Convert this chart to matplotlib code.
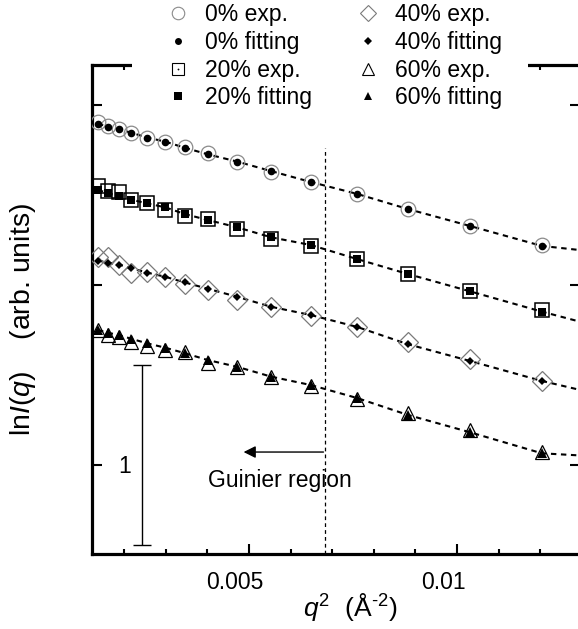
import matplotlib
matplotlib.use("Agg")
import matplotlib.pyplot as plt
from matplotlib.ticker import FixedLocator, MultipleLocator, FixedFormatter
from matplotlib.lines import Line2D
from matplotlib.patches import Rectangle
import matplotlib.transforms as mtransforms

plt.rcParams['font.family'] = ['Liberation Sans', 'DejaVu Sans']
plt.rcParams['mathtext.fontset'] = 'custom'
plt.rcParams['mathtext.rm'] = 'Liberation Sans'
plt.rcParams['mathtext.it'] = 'Liberation Sans:italic'

# ---- data (q^2 in 1/Å^2, ln I in arbitrary units) ----
q2 = [0.00137, 0.00161, 0.00188, 0.00216, 0.00255, 0.00298, 0.00346, 0.00401,
      0.00471, 0.00553, 0.00649, 0.00760, 0.00882, 0.01031, 0.01204]

exp0 = [2.906, 2.881, 2.864, 2.847, 2.819, 2.797, 2.764, 2.731, 2.686, 2.628,
        2.572, 2.506, 2.422, 2.328, 2.222]
fit0 = [2.897, 2.878, 2.864, 2.847, 2.819, 2.797, 2.762, 2.726, 2.686, 2.633,
        2.572, 2.506, 2.422, 2.328, 2.217]

exp20 = [2.550, 2.522, 2.519, 2.475, 2.453, 2.417, 2.385, 2.368, 2.311, 2.256,
         2.217, 2.144, 2.061, 1.964, 1.861]
fit20 = [2.529, 2.509, 2.497, 2.475, 2.453, 2.432, 2.394, 2.361, 2.321, 2.265,
         2.222, 2.144, 2.061, 1.965, 1.852]

exp40 = [2.153, 2.156, 2.111, 2.069, 2.072, 2.042, 2.003, 1.975, 1.917, 1.876,
         1.828, 1.767, 1.685, 1.589, 1.468]
fit40 = [2.136, 2.124, 2.113, 2.094, 2.069, 2.046, 2.014, 1.979, 1.935, 1.879,
         1.833, 1.767, 1.671, 1.578, 1.467]

exp60 = [1.748, 1.721, 1.711, 1.685, 1.661, 1.639, 1.629, 1.565, 1.543, 1.487,
         1.439, 1.367, 1.287, 1.194, 1.074]
fit60 = [1.750, 1.735, 1.721, 1.702, 1.676, 1.652, 1.621, 1.583, 1.546, 1.491,
         1.444, 1.372, 1.278, 1.182, 1.065]

# fitted curves continue to the right edge of the plot
curve_end_x = 0.01296
curve_end_y = [2.194, 1.796, 1.417, 1.053]

labels_exp = ["0% exp.", "20% exp.", "40% exp.", "60% exp."]
labels_fit = ["0% fitting", "20% fitting", "40% fitting", "60% fitting"]

xticks_major = [0.005, 0.01]
xtick_labels = ["0.005", "0.01"]
yticks_major = [1, 2, 3]

guinier_limit = 0.00683
scale_bar_x = 0.00243
scale_bar_low, scale_bar_high = 0.556, 1.555

# ---- figure ----
W, H = 578, 629
fig = plt.figure(figsize=(W / 100, H / 100), dpi=100)
L, R, T, B = 92, 580, 65, 554
ax = fig.add_axes([L / W, (H - B) / H, (R - L) / W, (B - T) / H])

x_lo = 0.005 - (249 - L) / 41600
x_hi = 0.005 + (R - 249) / 41600
y_lo = 1 - (B - 465) / 180
y_hi = 1 + (465 - T) / 180
ax.set_xlim(x_lo, x_hi)
ax.set_ylim(y_lo, y_hi)

exp_series = [exp0, exp20, exp40, exp60]
fit_series = [fit0, fit20, fit40, fit60]

exp_style = [
    dict(marker='o', ms=10.5, mfc='none', mec='#8a8a8a', mew=0.9),
    dict(marker='s', ms=9.5, mfc='none', mec='black', mew=1.1),
    dict(marker='D', ms=10, mfc='none', mec='#7a7a7a', mew=0.9),
    dict(marker='^', ms=10.5, mfc='none', mec='black', mew=0.9),
]
fit_style = [
    dict(marker='o', ms=5.5, mfc='black', mec='black', mew=0),
    dict(marker='s', ms=6, mfc='black', mec='black', mew=0),
    dict(marker='D', ms=4.5, mfc='black', mec='black', mew=0),
    dict(marker='^', ms=7, mfc='black', mec='black', mew=0),
]

for ex, ft, ey, es, fs in zip(exp_series, fit_series, curve_end_y, exp_style, fit_style):
    ax.plot(list(q2) + [curve_end_x], list(ft) + [ey], color='black', lw=1.5,
            ls=(0, (2.6, 2.2)), zorder=2)
    ax.plot(q2, ex, ls='none', zorder=3, **es)
    ax.plot(q2, ft, ls='none', zorder=4, **fs)

# Guinier boundary
ax.plot([guinier_limit, guinier_limit], [y_lo, 2.76], color='black', lw=0.9,
        ls=(0, (3, 2.5)), zorder=1)
ax.annotate("", xy=(0.00487, 1.072), xytext=(guinier_limit - 0.00004, 1.072),
            arrowprops=dict(arrowstyle='-|>', color='black', lw=1.0,
                            mutation_scale=18, shrinkA=0, shrinkB=0))
ax.text(0.00401, 0.915, "Guinier region", fontsize=16.5, ha='left', va='center')

# scale bar
ax.errorbar([scale_bar_x], [(scale_bar_low + scale_bar_high) / 2],
            yerr=[(scale_bar_high - scale_bar_low) / 2], fmt='none',
            ecolor='black', elinewidth=1.0, capsize=6.5, capthick=1.0)
ax.text(0.00200, 0.99, "1", fontsize=16.5, ha='center', va='center')

# ticks and spines
ax.xaxis.set_major_locator(FixedLocator(xticks_major))
ax.xaxis.set_major_formatter(FixedFormatter(xtick_labels))
ax.xaxis.set_minor_locator(MultipleLocator(0.001))
ax.yaxis.set_major_locator(FixedLocator(yticks_major))
ax.yaxis.set_ticklabels([])
ax.tick_params(which='both', direction='in', top=True, right=True)
ax.tick_params(which='major', length=7.5, width=1.5, labelsize=16.5, pad=12)
ax.tick_params(which='minor', length=3.8, width=1.5)
for sp in ax.spines.values():
    sp.set_linewidth(2.3)

offset = mtransforms.ScaledTranslation(-14 / 100, 0, fig.dpi_scale_trans)
for lab in ax.get_xticklabels():
    lab.set_transform(lab.get_transform() + offset)

ax.set_xlabel(r"$\it{q}^{2}$  (Å$^{\text{-}2}$)", fontsize=19)
ax.xaxis.set_label_coords(0.53, -0.075)
ax.set_ylabel(r"ln$\it{I}$($\it{q}$)    (arb. units)", fontsize=20.5)
ax.yaxis.set_label_coords(-0.11, 0.48)

# white band where the legend interrupts the top frame
fig.add_artist(Rectangle((132 / W, 1 - 74 / H), (528 - 132) / W, 16 / H,
                         transform=fig.transFigure, facecolor='white',
                         edgecolor='none', zorder=5))

# legend
handles = []
leg_exp = [
    dict(marker='o', ms=9, mfc='none', mec='#8a8a8a', mew=0.8),
    dict(marker='s', ms=8, mfc='none', mec='black', mew=0.8),
    dict(marker='D', ms=8, mfc='none', mec='#7a7a7a', mew=0.8),
    dict(marker='^', ms=8.5, mfc='none', mec='black', mew=0.8),
]
leg_fit = [
    dict(marker='o', ms=5, mfc='black', mec='black', mew=0),
    dict(marker='s', ms=6, mfc='black', mec='black', mew=0),
    dict(marker='D', ms=4.5, mfc='black', mec='black', mew=0),
    dict(marker='^', ms=6, mfc='black', mec='black', mew=0),
]
for i, (le, lf) in enumerate(zip(leg_exp, leg_fit)):
    h_exp = Line2D([], [], ls='none', **le)
    if i == 1:
        h_exp = (h_exp, Line2D([], [], ls='none', marker='o', ms=1.3,
                               mfc='black', mec='black', mew=0))
    handles.append(h_exp)
    handles.append(Line2D([], [], ls='none', **lf))
labels = []
for te, tf in zip(labels_exp, labels_fit):
    labels += [te, tf]

leg = fig.legend(handles, labels, ncol=2, loc='upper left',
                 bbox_to_anchor=(169 / W, 1 - 3.5 / H), fontsize=16.5,
                 frameon=False, handlelength=0.8, handletextpad=0.78,
                 columnspacing=2.04, labelspacing=0.2, borderpad=0,
                 borderaxespad=0)
leg.set_zorder(6)

fig.savefig("out.png", dpi=100)
